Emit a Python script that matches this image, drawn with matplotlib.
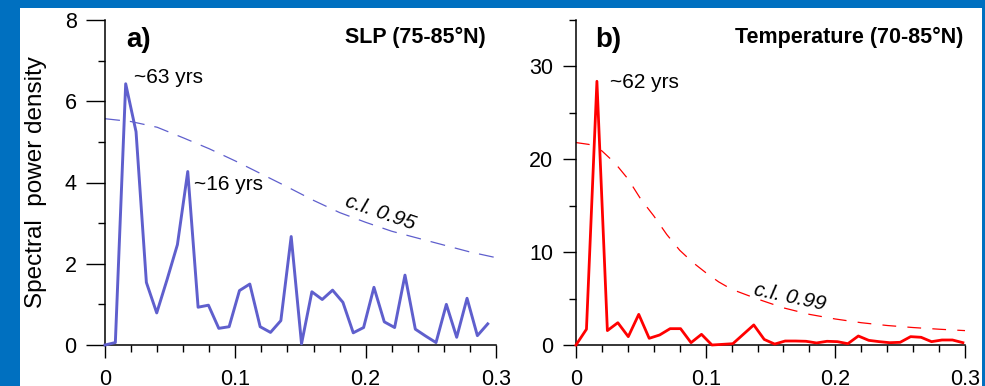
import numpy as np
import matplotlib
matplotlib.use("Agg")
import matplotlib.pyplot as plt
from matplotlib.patches import Rectangle
from matplotlib.ticker import MultipleLocator, FixedLocator

plt.rcParams['font.family'] = ['Liberation Sans', 'DejaVu Sans']

# spectra
slp_psd = [0, 0.06, 6.43, 5.25, 1.54, 0.79, 1.61, 2.47, 4.27, 0.93,
           0.98, 0.41, 0.45, 1.34, 1.5, 0.45, 0.31, 0.6, 2.67, 0.03,
           1.31, 1.12, 1.35, 1.05, 0.3, 0.43, 1.42, 0.57, 0.43, 1.72,
           0.39, 0.22, 0.06, 1.0, 0.19, 1.15, 0.23, 0.52]
slp_freq = np.arange(len(slp_psd)) / 126

temp_psd = [0, 1.7, 28.4, 1.55, 2.4, 0.9, 3.3, 0.72, 1.08, 1.76,
            1.76, 0.25, 1.15, 0.0, 0.07, 0.14, 1.15, 2.16, 0.6, 0.1,
            0.43, 0.43, 0.4, 0.22, 0.4, 0.36, 0.14, 0.97, 0.5, 0.36,
            0.25, 0.29, 0.9, 0.83, 0.36, 0.54, 0.54, 0.25]
temp_freq = np.arange(len(temp_psd)) / 124

# confidence levels
ci95_freq = [0, 0.02, 0.04, 0.06, 0.08, 0.10, 0.12, 0.14, 0.16, 0.18,
             0.20, 0.22, 0.24, 0.26, 0.28, 0.30]
ci95 = [5.57, 5.5, 5.36, 5.1, 4.83, 4.53, 4.21, 3.89, 3.56, 3.26,
        3.02, 2.8, 2.63, 2.46, 2.29, 2.15]
ci99_freq = [0, 0.01, 0.02, 0.03, 0.04, 0.05, 0.06, 0.07, 0.08, 0.09,
             0.10, 0.11, 0.12, 0.14, 0.16, 0.18, 0.20, 0.22, 0.24, 0.26,
             0.28, 0.30]
ci99 = [21.8, 21.6, 20.9, 19.6, 17.9, 15.7, 13.9, 11.9, 10.2, 8.9,
        7.8, 6.8, 6.0, 4.95, 4.0, 3.3, 2.8, 2.4, 2.1, 1.88, 1.7, 1.55]

blue = '#5f5fcd'
red = '#ff0000'

W, H = 985, 386
fig = plt.figure(figsize=(W / 100, H / 100), dpi=100, facecolor='#0070c0')
fig.patches.append(Rectangle((20 / W, 0), 962 / W, 1 - 8 / H,
                             transform=fig.transFigure, facecolor='white',
                             edgecolor='none', zorder=-10))

bot = 1 - 345 / H
hgt = 325 / H
ax1 = fig.add_axes([105 / W, bot, 391 / W, hgt])
ax2 = fig.add_axes([576 / W, bot, 389 / W, hgt])

for ax in (ax1, ax2):
    ax.set_facecolor('none')
    ax.spines['top'].set_visible(False)
    ax.spines['right'].set_visible(False)
    for s in ('left', 'bottom'):
        ax.spines[s].set_linewidth(1.1)
    ax.set_xlim(0, 0.3)
    ax.xaxis.set_major_locator(FixedLocator([0, 0.1, 0.2, 0.3]))
    ax.set_xticklabels(['0', '0.1', '0.2', '0.3'])
    ax.xaxis.set_minor_locator(MultipleLocator(0.02))
    ax.tick_params(axis='x', which='major', direction='out', length=9.5,
                   width=1.0, labelsize=15.5, pad=8)
    ax.tick_params(axis='x', which='minor', direction='out', length=5, width=1.0)
    ax.tick_params(axis='y', which='minor', direction='out', length=5, width=1.0)

# panel a
ax1.plot(slp_freq, slp_psd, color=blue, lw=2.1, clip_on=False, zorder=3)
ax1.plot(ci95_freq, ci95, color=blue, lw=0.9, dashes=(12, 8), clip_on=False)
ax1.set_ylim(0, 8)
ax1.yaxis.set_major_locator(MultipleLocator(2))
ax1.yaxis.set_minor_locator(MultipleLocator(1))
ax1.tick_params(axis='y', which='major', direction='out', length=13.5,
                width=1.0, labelsize=15.5, pad=7)
ax1.set_ylabel('Spectral  power density', fontsize=17.5)
ax1.yaxis.set_label_coords(-0.148, 0.5)
ax1.text(0.054, 0.938, 'a)', transform=ax1.transAxes, fontsize=20,
         fontweight='bold', ha='left', va='center')
ax1.text(0.974, 0.945, 'SLP (75-85°N)', transform=ax1.transAxes, fontsize=15.5,
         fontweight='bold', ha='right', va='center')
ax1.text(0.022, 6.45, '~63 yrs', fontsize=15, ha='left', va='baseline')
ax1.text(0.068, 3.82, '~16 yrs', fontsize=15, ha='left', va='baseline')
ax1.text(0.211, 3.25, 'c.l. 0.95', fontsize=15, style='italic',
         rotation=-19, ha='center', va='center', rotation_mode='anchor')

# panel b
ax2.plot(temp_freq, temp_psd, color=red, lw=2.0, clip_on=False, zorder=3)
ax2.plot(ci99_freq, ci99, color=red, lw=0.9, dashes=(11, 9), clip_on=False)
ax2.set_ylim(0, 35)
ax2.yaxis.set_major_locator(MultipleLocator(10))
ax2.yaxis.set_minor_locator(MultipleLocator(5))
ax2.tick_params(axis='y', which='major', direction='out', length=9.5,
                width=1.0, labelsize=15.5, pad=7)
ax2.text(0.049, 0.938, 'b)', transform=ax2.transAxes, fontsize=20,
         fontweight='bold', ha='left', va='center')
ax2.text(0.997, 0.945, 'Temperature (70-85°N)', transform=ax2.transAxes,
         fontsize=15.5, fontweight='bold', ha='right', va='center')
ax2.text(0.026, 27.7, '~62 yrs', fontsize=15, ha='left', va='baseline')
ax2.text(0.165, 5.2, 'c.l. 0.99', fontsize=15, style='italic',
         rotation=-12, ha='center', va='center', rotation_mode='anchor')

fig.savefig('out.png', dpi=100, facecolor=fig.get_facecolor())
